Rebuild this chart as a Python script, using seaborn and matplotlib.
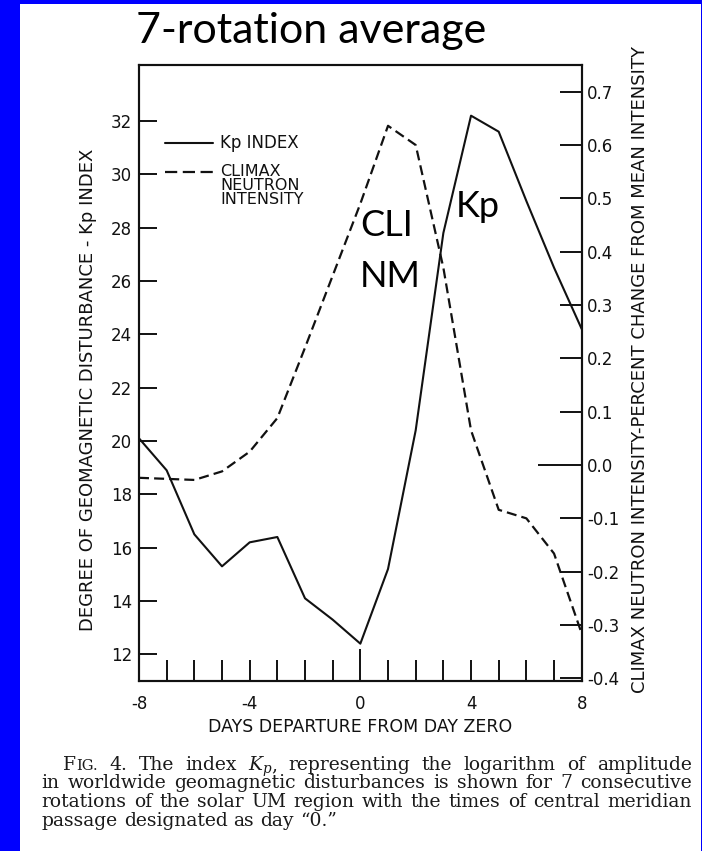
import matplotlib
matplotlib.use("Agg")
import matplotlib.pyplot as plt
import pandas as pd
import seaborn as sns
from matplotlib.patches import Rectangle
from matplotlib.lines import Line2D

# ---- data -------------------------------------------------------------
days = [-8, -7, -6, -5, -4, -3, -2, -1, 0, 1, 2, 3, 4, 5, 6, 7, 8]
kp_index = [20.1, 18.9, 16.5, 15.3, 16.2, 16.4, 14.1, 13.3, 12.4,
            15.2, 20.4, 27.8, 32.2, 31.6, 29.0, 26.5, 24.2]
climax_change = [-0.024, -0.026, -0.028, -0.012, 0.025, 0.088, 0.22, 0.355, 0.49,
                 0.636, 0.60, 0.37, 0.065, -0.084, -0.10, -0.166, -0.316]

kp_ticks = [12, 14, 16, 18, 20, 22, 24, 26, 28, 30, 32]
climax_ticks = [-0.4, -0.3, -0.2, -0.1, 0.0, 0.1, 0.2, 0.3, 0.4, 0.5, 0.6, 0.7]
climax_tick_labels = ["-0.4", "-0.3", "-0.2", "-0.1", "0.0", "0.1",
                      "0.2", "0.3", "0.4", "0.5", "0.6", "0.7"]
day_tick_labels = ["-8", "", "", "", "-4", "", "", "", "0",
                   "", "", "", "4", "", "", "", "8"]

title = "7-rotation average"
kp_axis_label = "DEGREE OF GEOMAGNETIC DISTURBANCE - Kp INDEX"
climax_axis_label = "CLIMAX NEUTRON INTENSITY-PERCENT CHANGE FROM MEAN INTENSITY"
day_axis_label = "DAYS DEPARTURE FROM DAY ZERO"
key_labels = ["Kp INDEX", ["CLIMAX", "NEUTRON", "INTENSITY"]]
caption_lines = [
    "FIG. 4. The index Kp, representing the logarithm of amplitude",
    "in worldwide geomagnetic disturbances is shown for 7 consecutive",
    "rotations of the solar UM region with the times of central meridian",
    "passage designated as day \u201c0.\u201d",
]

# ---- style ------------------------------------------------------------
sns.set_style("ticks")
plt.rcParams["font.family"] = ["DejaVu Sans"]
ink = "#111111"

W, H = 702, 851
fig = plt.figure(figsize=(W / 100, H / 100), dpi=100, facecolor="#0000FF")
fig.patches.append(Rectangle((20 / W, 0), (W - 21) / W, (H - 4) / H,
                             transform=fig.transFigure, facecolor="white",
                             edgecolor="none", zorder=-1))


def fx(x):
    return x / W


def fy(y):
    return 1 - y / H


ax_left, ax_right, ax_top, ax_bottom = 139, 581.7, 65, 681
ax = fig.add_axes([fx(ax_left), fy(ax_bottom),
                   (ax_right - ax_left) / W, (ax_bottom - ax_top) / H])
ax2 = ax.twinx()

kp_df = pd.DataFrame({"day": days, "kp": kp_index})
nm_df = pd.DataFrame({"day": days, "climax": climax_change})

sns.lineplot(data=kp_df, x="day", y="kp", ax=ax, color=ink, lw=1.5)
sns.lineplot(data=nm_df, x="day", y="climax", ax=ax2, color=ink, lw=1.6,
             linestyle=(0, (4.5, 2.3)))

ax.set_xlim(-8, 8)
ax.set_ylim(11, 34.1)
ax2.set_ylim(-0.405, 0.75)

ax.set_xticks(days)
ax.set_xticklabels(day_tick_labels)
ax.set_yticks(kp_ticks)
ax.set_yticklabels([str(v) for v in kp_ticks])
ax2.set_yticks(climax_ticks)
ax2.set_yticklabels(climax_tick_labels)

for a in (ax, ax2):
    for s in a.spines.values():
        s.set_linewidth(1.5)
        s.set_color(ink)

ax.tick_params(axis="y", direction="in", length=13, width=1.4, pad=5,
               labelsize=12, colors=ink)
ax.tick_params(axis="x", direction="in", length=15, width=1.4, pad=10,
               labelsize=12, colors=ink)
ax2.tick_params(axis="y", direction="in", length=15.5, width=1.4, pad=4,
                labelsize=12, colors=ink)

# longer reference ticks at day zero and at zero change
ax.xaxis.get_major_ticks()[days.index(0)].tick1line.set_markersize(23)
ax2.yaxis.get_major_ticks()[climax_ticks.index(0.0)].tick2line.set_markersize(32)

ax.set_ylabel(kp_axis_label, fontsize=13, va="center", ha="center", color=ink)
ax.yaxis.set_label_coords(-0.115, 0.472)
ax2.set_ylabel(climax_axis_label, fontsize=13, rotation=90, va="center",
               ha="center", color=ink)
ax2.yaxis.set_label_coords(1.132, 0.505)
ax.set_xlabel(day_axis_label, fontsize=12.5, va="center", color=ink)
ax.xaxis.set_label_coords(0.5, -0.074)

# ---- key --------------------------------------------------------------
def ax_pt(x, y):
    return ((x - ax_left) / (ax_right - ax_left),
            (ax_bottom - y) / (ax_bottom - ax_top))


k0 = ax_pt(165, 143)
k1 = ax_pt(213, 143)
ax.add_line(Line2D([k0[0], k1[0]], [k0[1], k1[1]], transform=ax.transAxes,
                   color=ink, lw=1.5))
d0 = ax_pt(165, 171.5)
d1 = ax_pt(213, 171.5)
ax.add_line(Line2D([d0[0], d1[0]], [d0[1], d1[1]], transform=ax.transAxes,
                   color=ink, lw=1.6, linestyle=(0, (5.5, 2.5))))
t = ax_pt(220, 143)
ax.text(t[0], t[1], key_labels[0], transform=ax.transAxes, fontsize=12,
        va="center", ha="left", color=ink)
for i, word in enumerate(key_labels[1]):
    t = ax_pt(220, 171.5 + 14 * i)
    ax.text(t[0], t[1], word, transform=ax.transAxes, fontsize=11.5,
            va="center", ha="left", color=ink)

# ---- curve labels -----------------------------------------------------
for txt, x, y in [("CLI", 360, 236), ("NM", 360, 286.7), ("Kp", 456, 216.7)]:
    p = ax_pt(x, y)
    ax.text(p[0], p[1], txt, transform=ax.transAxes, fontsize=26,
            family="Lato", va="baseline", ha="left", color="black")

fig.text(fx(136), fy(43), title, fontsize=31, family="Lato",
         va="baseline", ha="left", color="black")

# ---- caption (justified) ---------------------------------------------
serif = "DejaVu Serif"
cap_size = 13.5
renderer = fig.canvas.get_renderer()


def text_width(s, size, style="normal"):
    tt = fig.text(0, 0, s, fontsize=size, family=serif, style=style)
    w = tt.get_window_extent(renderer=renderer).width
    tt.remove()
    return w


def split_words(line):
    # each word is a list of (text, size, style, baseline shift in px)
    words = []
    for w in line.split(" "):
        if w == "FIG.":
            words.append([("F", cap_size, "normal", 0),
                          ("IG.", cap_size * 0.78, "normal", 0)])
        elif w == "Kp,":
            words.append([("K", cap_size, "italic", 0),
                          ("p", cap_size * 0.72, "italic", 2.5),
                          (",", cap_size, "normal", 0)])
        else:
            words.append([(w, cap_size, "normal", 0)])
    return words


space_w = text_width("a a", cap_size) - text_width("aa", cap_size)
baselines = [770, 788.5, 807, 825.5]
starts = [63, 41.7, 41.7, 41.7]
right_edge = 691.7
for i, line in enumerate(caption_lines):
    words = split_words(line)
    widths = [sum(text_width(s, sz, st) for s, sz, st, _ in w) for w in words]
    justify = i < len(caption_lines) - 1
    if justify:
        gap = (right_edge - starts[i] - sum(widths)) / (len(words) - 1)
    else:
        gap = space_w
    x = starts[i]
    for w, wd in zip(words, widths):
        xx = x
        for s, sz, st, dy in w:
            fig.text(fx(xx), fy(baselines[i] + dy), s, fontsize=sz,
                     family=serif, style=st, va="baseline", ha="left",
                     color="#1a1a1a")
            xx += text_width(s, sz, st)
        x += wd + gap

fig.savefig("out.png", dpi=100, facecolor=fig.get_facecolor())
